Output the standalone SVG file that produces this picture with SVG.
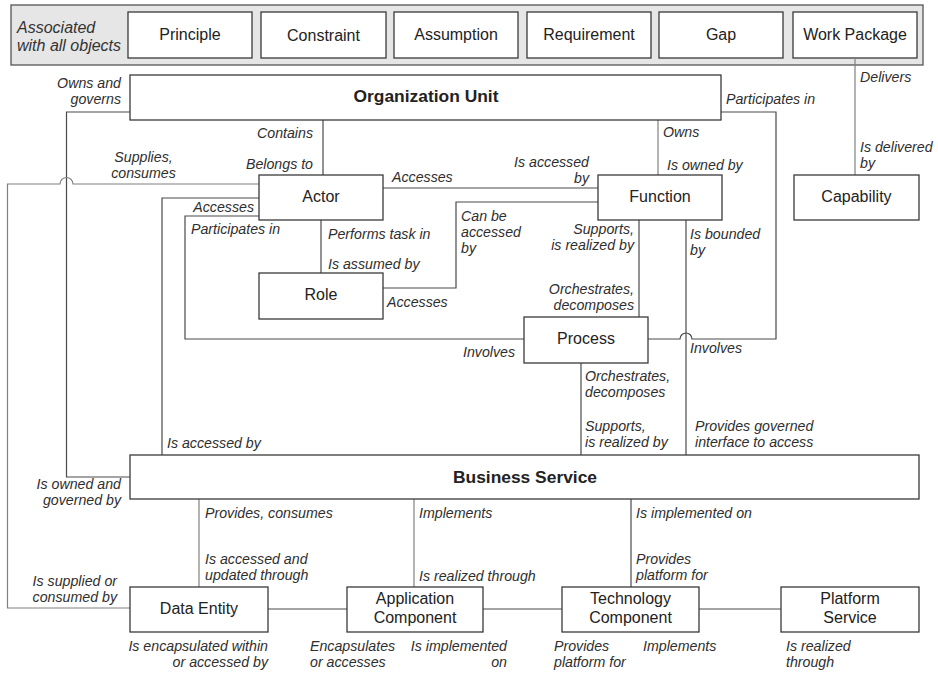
<svg xmlns="http://www.w3.org/2000/svg" width="938" height="675" viewBox="0 0 938 675">
  <style>
    .box { fill: #ffffff; stroke: #3a3a3a; stroke-width: 1.3; }
    .band { fill: #e6e6e6; stroke: #555; stroke-width: 1.3; }
    .conn { fill: none; stroke: #4a4a4a; stroke-width: 1.2; }
    .conn-light { fill: none; stroke: #808080; stroke-width: 1.2; }
    .name { font-family: "Liberation Sans", Arial, sans-serif; font-size: 16px; fill: #222; text-anchor: middle; }
    .title { font-family: "Liberation Sans", Arial, sans-serif; font-size: 17.4px; font-weight: bold; fill: #222; text-anchor: middle; }
    .lbl { font-family: "Liberation Sans", Arial, sans-serif; font-size: 14.2px; font-style: italic; fill: #2e2e2e; }
    .end { text-anchor: end; }
    .mid { text-anchor: middle; }
    .band-lbl { font-family: "Liberation Sans", Arial, sans-serif; font-size: 16px; font-style: italic; fill: #333; }
  </style>

  <!-- Cross-cutting objects band -->
  <g id="associated-band">
    <rect class="band" x="11" y="5" width="912" height="60"/>
    <text class="band-lbl" x="17" y="33">Associated</text>
    <text class="band-lbl" x="17" y="51">with all objects</text>
  </g>
  <g id="principle"><rect class="box" x="128" y="12" width="124" height="46"/><text class="name" x="190" y="40">Principle</text></g>
  <g id="constraint"><rect class="box" x="261" y="12" width="125" height="46"/><text class="name" x="323.5" y="41">Constraint</text></g>
  <g id="assumption"><rect class="box" x="394" y="12" width="124" height="46"/><text class="name" x="456" y="40">Assumption</text></g>
  <g id="requirement"><rect class="box" x="527" y="12" width="124" height="46"/><text class="name" x="589" y="40">Requirement</text></g>
  <g id="gap"><rect class="box" x="659" y="12" width="124" height="46"/><text class="name" x="721" y="40">Gap</text></g>
  <g id="work-package"><rect class="box" x="793" y="12" width="124" height="46"/><text class="name" x="855" y="40">Work Package</text></g>

  <!-- Connectors -->
  <g id="connectors">
    <!-- Work Package - Capability -->
    <path class="conn-light" d="M855,58 V175"/>
    <!-- Organization Unit - Business Service (owns and governs) -->
    <path class="conn" d="M130,112 H66.5 V477 H130"/>
    <!-- Organization Unit - Process (participates in), hop over Function line -->
    <path class="conn" d="M721,112 H776 V339 H692 A6,6 0 0 0 680,339 H648"/>
    <!-- Organization Unit - Actor -->
    <path class="conn" d="M323,120 V175"/>
    <!-- Organization Unit - Function -->
    <path class="conn-light" d="M658,120 V175"/>
    <!-- Actor - Data Entity (supplies, consumes), hop over governance line -->
    <path class="conn-light" d="M259,184 H73 A6.5,6.5 0 0 0 60,184 H7.5 V608 H130"/>
    <!-- Actor - Function -->
    <path class="conn" d="M383,188 H598"/>
    <!-- Role - Function -->
    <path class="conn" d="M383,288 H456 V202 H598"/>
    <!-- Actor - Role -->
    <path class="conn" d="M321,220 V273"/>
    <!-- Actor - Business Service -->
    <path class="conn" d="M259,198 H162 V455"/>
    <!-- Actor - Process -->
    <path class="conn" d="M259,216 H185 V339 H524"/>
    <!-- Function - Process -->
    <path class="conn" d="M639,220 V317"/>
    <!-- Function - Business Service -->
    <path class="conn" d="M686,220 V455"/>
    <!-- Process - Business Service -->
    <path class="conn" d="M581,363 V455"/>
    <!-- Business Service - lower layer -->
    <path class="conn-light" d="M199,499 V587"/>
    <path class="conn-light" d="M414,499 V587"/>
    <path class="conn" d="M631,499 V587"/>
    <!-- Lower row chain -->
    <path class="conn" d="M268,609 H347"/>
    <path class="conn" d="M483,609 H562"/>
    <path class="conn" d="M699,609 H781"/>
  </g>

  <!-- Nodes -->
  <g id="organization-unit"><rect class="box" x="130" y="75" width="591" height="45"/><text class="title" x="426" y="102">Organization Unit</text></g>
  <g id="actor"><rect class="box" x="259" y="175" width="124" height="45"/><text class="name" x="321" y="202">Actor</text></g>
  <g id="function"><rect class="box" x="598" y="175" width="124" height="45"/><text class="name" x="660" y="202">Function</text></g>
  <g id="capability"><rect class="box" x="794" y="175" width="125" height="45"/><text class="name" x="856.5" y="202">Capability</text></g>
  <g id="role"><rect class="box" x="259" y="273" width="124" height="46"/><text class="name" x="321" y="300">Role</text></g>
  <g id="process"><rect class="box" x="524" y="317" width="124" height="46"/><text class="name" x="586" y="344">Process</text></g>
  <g id="business-service"><rect class="box" x="130" y="455" width="789" height="44"/><text class="title" x="525" y="483">Business Service</text></g>
  <g id="data-entity"><rect class="box" x="130" y="587" width="138" height="45"/><text class="name" x="199" y="614">Data Entity</text></g>
  <g id="application-component"><rect class="box" x="347" y="587" width="136" height="45"/><text class="name" x="415" y="604">Application</text><text class="name" x="415" y="623">Component</text></g>
  <g id="technology-component"><rect class="box" x="562" y="587" width="137" height="45"/><text class="name" x="630.5" y="604">Technology</text><text class="name" x="630.5" y="623">Component</text></g>
  <g id="platform-service"><rect class="box" x="781" y="587" width="138" height="45"/><text class="name" x="850" y="604">Platform</text><text class="name" x="850" y="623">Service</text></g>

  <!-- Relationship labels -->
  <g id="labels">
    <text class="lbl" x="860" y="82">Delivers</text>
    <text class="lbl" x="860" y="152">Is delivered</text>
    <text class="lbl" x="860" y="168">by</text>

    <text class="lbl end" x="121" y="88">Owns and</text>
    <text class="lbl end" x="121" y="104">governs</text>
    <text class="lbl end" x="121" y="489">Is owned and</text>
    <text class="lbl end" x="121" y="505">governed by</text>

    <text class="lbl" x="726" y="104">Participates in</text>
    <text class="lbl end" x="515" y="357">Involves</text>

    <text class="lbl end" x="313" y="138">Contains</text>
    <text class="lbl end" x="313" y="169">Belongs to</text>

    <text class="lbl mid" x="143.5" y="162">Supplies,</text>
    <text class="lbl mid" x="143.5" y="178">consumes</text>
    <text class="lbl end" x="117" y="586">Is supplied or</text>
    <text class="lbl end" x="117" y="602">consumed by</text>

    <text class="lbl" x="663" y="137">Owns</text>
    <text class="lbl" x="667" y="170">Is owned by</text>

    <text class="lbl" x="392" y="182">Accesses</text>
    <text class="lbl end" x="589" y="167">Is accessed</text>
    <text class="lbl end" x="589" y="183">by</text>

    <text class="lbl" x="461" y="221">Can be</text>
    <text class="lbl" x="461" y="237">accessed</text>
    <text class="lbl" x="461" y="253">by</text>
    <text class="lbl" x="387" y="307">Accesses</text>

    <text class="lbl end" x="254" y="212">Accesses</text>
    <text class="lbl" x="167" y="448">Is accessed by</text>
    <text class="lbl" x="191" y="234">Participates in</text>

    <text class="lbl" x="328" y="239">Performs task in</text>
    <text class="lbl" x="328" y="269">Is assumed by</text>

    <text class="lbl end" x="634" y="234">Supports,</text>
    <text class="lbl end" x="634" y="250">is realized by</text>
    <text class="lbl end" x="634" y="294">Orchestrates,</text>
    <text class="lbl end" x="634" y="310">decomposes</text>

    <text class="lbl" x="690" y="239">Is bounded</text>
    <text class="lbl" x="690" y="255">by</text>
    <text class="lbl" x="690" y="353">Involves</text>
    <text class="lbl" x="695" y="431">Provides governed</text>
    <text class="lbl" x="695" y="447">interface to access</text>

    <text class="lbl" x="585" y="381">Orchestrates,</text>
    <text class="lbl" x="585" y="397">decomposes</text>
    <text class="lbl" x="585" y="431">Supports,</text>
    <text class="lbl" x="585" y="447">is realized by</text>

    <text class="lbl" x="205" y="518">Provides, consumes</text>
    <text class="lbl" x="205" y="564">Is accessed and</text>
    <text class="lbl" x="205" y="580">updated through</text>

    <text class="lbl" x="419" y="518">Implements</text>
    <text class="lbl" x="419" y="581">Is realized through</text>

    <text class="lbl" x="636" y="518">Is implemented on</text>
    <text class="lbl" x="636" y="564">Provides</text>
    <text class="lbl" x="636" y="580">platform for</text>

    <text class="lbl end" x="268" y="651">Is encapsulated within</text>
    <text class="lbl end" x="268" y="667">or accessed by</text>
    <text class="lbl" x="310" y="651">Encapsulates</text>
    <text class="lbl" x="310" y="667">or accesses</text>
    <text class="lbl end" x="507" y="651">Is implemented</text>
    <text class="lbl end" x="507" y="667">on</text>
    <text class="lbl" x="554" y="651">Provides</text>
    <text class="lbl" x="554" y="667">platform for</text>
    <text class="lbl" x="643" y="651">Implements</text>
    <text class="lbl" x="786" y="651">Is realized</text>
    <text class="lbl" x="786" y="667">through</text>
  </g>
</svg>
